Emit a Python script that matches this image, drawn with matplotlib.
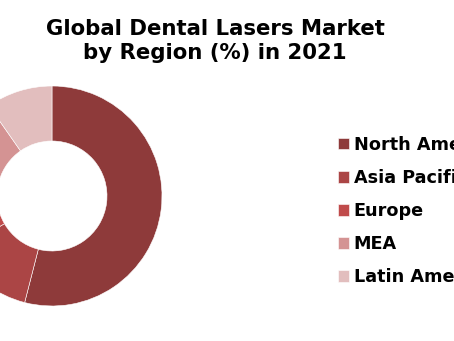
"""
Global Dental Lasers Market by Region donut
"""

import matplotlib.pyplot as plt

regions = ["North America", "Asia Pacific", "Europe", "MEA", "Latin America"]
shares = [54.0, 12.6, 13.0, 10.7, 9.7]
colors = ["#8E3A3A", "#AB4545", "#C04B4B", "#D49393", "#E2BEBE"]

W, H = 454, 341

fig = plt.figure(figsize=(W / 100, H / 100), dpi=100)

# Donut: center (52, 196) px, outer radius 110 px
cx, cy, r = 52, 196, 110
ax = fig.add_axes([(cx - r) / W, (H - cy - r) / H, 2 * r / W, 2 * r / H])
wedges, _ = ax.pie(
    shares,
    colors=colors,
    startangle=90,
    counterclock=False,
    radius=1,
    wedgeprops=dict(width=0.5, edgecolor="white", linewidth=0.4),
)
ax.set_xlim(-1, 1)
ax.set_ylim(-1, 1)
ax.set_aspect("equal")
ax.axis("off")

fig.text(
    215 / W,
    1 - 41 / H,
    "Global Dental Lasers Market\nby Region (%) in 2021",
    ha="center",
    va="center",
    fontsize=15.3,
    fontweight="bold",
    linespacing=1.2,
)

# legend runs off the right edge, as in the original
fig.legend(
    wedges,
    regions,
    loc="center left",
    bbox_to_anchor=(329 / W, 1 - 211 / H),
    frameon=False,
    prop=dict(size=12.7, weight="bold"),
    handlelength=0.65,
    handleheight=0.65,
    handletextpad=0.25,
    labelspacing=0.86,
    borderpad=0,
)

plt.savefig("out.png", dpi=100)
